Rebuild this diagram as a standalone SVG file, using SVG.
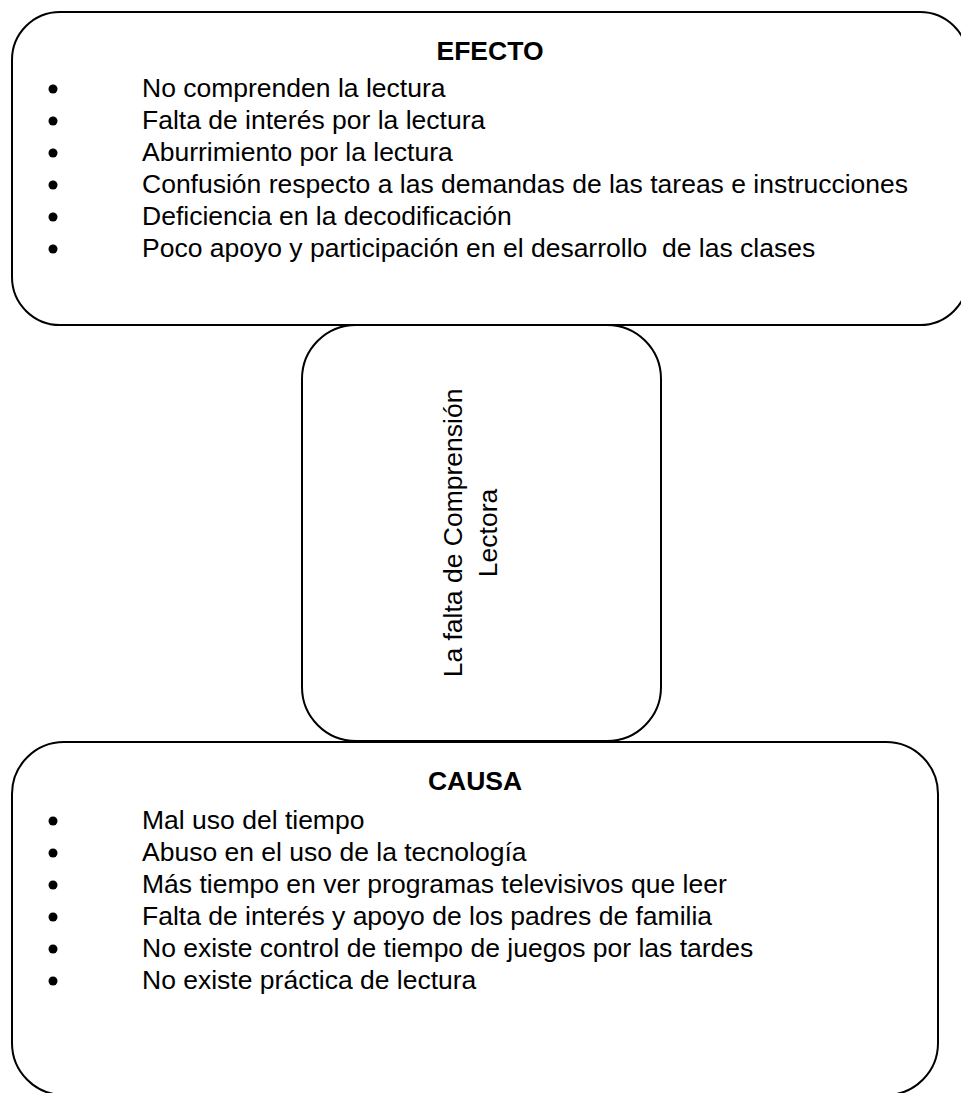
<svg xmlns="http://www.w3.org/2000/svg" width="961" height="1093" viewBox="0 0 961 1093">
<style>
.box{fill:#fff;stroke:#000;stroke-width:2}
.t{font-family:"Liberation Sans",Arial,sans-serif;font-size:26.5px;fill:#000}
.h{font-weight:bold;text-anchor:middle}
.b{fill:#000}
</style>
<rect width="961" height="1093" fill="#fff"/>
<g id="efecto">
<rect class="box" x="12" y="12" width="956" height="313" rx="48" ry="48"/>
<text class="t h" x="490" y="60">EFECTO</text>
<circle class="b" cx="53" cy="89" r="4.5"/>
<circle class="b" cx="53" cy="121" r="4.5"/>
<circle class="b" cx="53" cy="153" r="4.5"/>
<circle class="b" cx="53" cy="185" r="4.5"/>
<circle class="b" cx="53" cy="217" r="4.5"/>
<circle class="b" cx="53" cy="249" r="4.5"/>
<text class="t" x="142" y="97">No comprenden la lectura</text>
<text class="t" x="142" y="129">Falta de interés por la lectura</text>
<text class="t" x="142" y="161">Aburrimiento por la lectura</text>
<text class="t" x="142" y="193">Confusión respecto a las demandas de las tareas e instrucciones</text>
<text class="t" x="142" y="225">Deficiencia en la decodificación</text>
<text class="t" x="142" y="257" xml:space="preserve">Poco apoyo y participación en el desarrollo  de las clases</text>
</g>
<g id="problema">
<rect class="box" x="302" y="325" width="359" height="416" rx="54" ry="54"/>
<g transform="translate(481,533) rotate(-90)">
<text class="t" text-anchor="middle" x="0" y="-19">La falta de Comprensión</text>
<text class="t" text-anchor="middle" x="0" y="16">Lectora</text>
</g>
</g>
<g id="causa">
<rect class="box" x="12" y="742" width="926" height="353" rx="52" ry="52"/>
<text class="t h" x="475" y="790">CAUSA</text>
<circle class="b" cx="53" cy="821" r="4.5"/>
<circle class="b" cx="53" cy="853" r="4.5"/>
<circle class="b" cx="53" cy="885" r="4.5"/>
<circle class="b" cx="53" cy="917" r="4.5"/>
<circle class="b" cx="53" cy="949" r="4.5"/>
<circle class="b" cx="53" cy="981" r="4.5"/>
<text class="t" x="142" y="829">Mal uso del tiempo</text>
<text class="t" x="142" y="861">Abuso en el uso de la tecnología</text>
<text class="t" x="142" y="893">Más tiempo en ver programas televisivos que leer</text>
<text class="t" x="142" y="925">Falta de interés y apoyo de los padres de familia</text>
<text class="t" x="142" y="957">No existe control de tiempo de juegos por las tardes</text>
<text class="t" x="142" y="989">No existe práctica de lectura</text>
</g>
</svg>
